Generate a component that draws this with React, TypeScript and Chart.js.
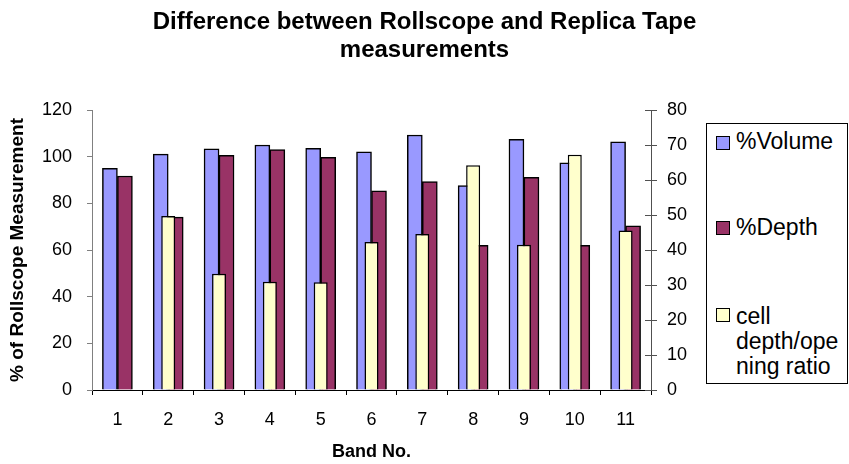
import React, { useEffect, useRef } from 'react';
import { Chart, registerables } from 'chart.js';

Chart.register(...registerables);

// Band numbers along the category axis
const bands = ['1', '2', '3', '4', '5', '6', '7', '8', '9', '10', '11'];

// % of Rollscope measurement (left axis)
const volumePct = [95.0, 101.1, 103.4, 105.0, 103.6, 102.1, 109.3, 87.6, 107.4, 97.4, 106.4];
const depthPct = [91.7, 74.1, 100.6, 103.0, 99.7, 85.4, 89.3, 62.0, 91.1, 62.0, 70.4];

// cell depth / opening ratio (right axis); band 1 has no reading
const cellRatio = [null, 49.7, 33.2, 30.9, 30.8, 42.3, 44.6, 64.2, 41.5, 67.2, 45.6];

const seriesNames = ['%Volume', '%Depth', 'cell depth/opening ratio'];
const legendLines = [['%Volume'], ['%Depth'], ['cell', 'depth/ope', 'ning ratio']];
const seriesColors = ['#9999FF', '#993366', '#FFFFCC'];

const FONT = '"Liberation Sans", Arial, Helvetica, sans-serif';
const LEFT_AXIS = '#808080';
const RIGHT_AXIS = '#505050';

// Excel-style tick marks that cross the secondary axis line
const crossTicks = {
  id: 'crossTicks',
  afterDraw(chart: any) {
    const s = chart.scales.y1;
    if (!s) return;
    const ctx = chart.ctx;
    ctx.save();
    ctx.strokeStyle = RIGHT_AXIS;
    ctx.lineWidth = 1;
    s.ticks.forEach((_: any, i: number) => {
      const y = Math.round(s.getPixelForTick(i)) + 0.5;
      ctx.beginPath();
      ctx.moveTo(s.left - 6, y);
      ctx.lineTo(s.left, y);
      ctx.stroke();
    });
    ctx.restore();
  },
};

function Legend() {
  const squareTops = [136, 221, 308];
  const textTops = [129, 215, 303.5];
  return (
    <div
      style={{
        position: 'absolute',
        left: 706,
        top: 123,
        width: 142,
        height: 261,
        boxSizing: 'border-box',
        border: '1px solid #000',
        background: '#fff',
      }}
    >
      {seriesNames.map((name, i) => (
        <React.Fragment key={name}>
          <div
            style={{
              position: 'absolute',
              left: 9,
              top: squareTops[i] - 124,
              width: 14,
              height: 14,
              boxSizing: 'border-box',
              border: '1px solid #000',
              background: seriesColors[i],
            }}
          />
          <div
            style={{
              position: 'absolute',
              left: 29,
              top: textTops[i] - 124,
              font: `23px ${FONT}`,
              lineHeight: '25px',
              color: '#000',
              whiteSpace: 'nowrap',
            }}
          >
            {legendLines[i].map((line) => (
              <div key={line}>{line}</div>
            ))}
          </div>
        </React.Fragment>
      ))}
    </div>
  );
}

export default function App() {
  const canvasRef = useRef<HTMLCanvasElement | null>(null);

  useEffect(() => {
    document.body.style.margin = '0';
    const canvas = canvasRef.current;
    if (!canvas) return;

    const chart = new Chart(canvas, {
      type: 'bar',
      data: {
        labels: bands,
        datasets: [
          {
            label: seriesNames[0],
            data: volumePct,
            backgroundColor: seriesColors[0],
            borderColor: '#000',
            borderWidth: 1.5,
            barThickness: 15,
            yAxisID: 'y',
          },
          {
            label: seriesNames[1],
            data: depthPct,
            backgroundColor: seriesColors[1],
            borderColor: '#000',
            borderWidth: 1.5,
            barThickness: 15,
            yAxisID: 'y',
          },
          {
            label: seriesNames[2],
            data: cellRatio,
            backgroundColor: seriesColors[2],
            borderColor: '#000',
            borderWidth: 1.5,
            grouped: false,
            barPercentage: 1,
            maxBarThickness: 14,
            order: -1,
            yAxisID: 'y1',
          },
        ],
      },
      options: {
        responsive: false,
        animation: false,
        layout: { padding: 0 },
        font: { family: FONT },
        plugins: {
          legend: { display: false },
          tooltip: { enabled: false },
          title: {
            display: true,
            text: ['Difference between Rollscope and Replica Tape', 'measurements'],
            color: '#000',
            font: { family: FONT, size: 24, weight: 'bold', lineHeight: 1.15 },
            padding: { top: 9, bottom: 45.8 },
          },
        },
        scales: {
          x: {
            grid: {
              drawOnChartArea: false,
              drawTicks: true,
              tickLength: 5,
              color: '#000',
              offset: true,
            },
            border: { color: '#000', width: 1 },
            ticks: {
              color: '#000',
              font: { family: FONT, size: 18 },
              padding: 14,
              maxRotation: 0,
            },
            title: {
              display: true,
              text: 'Band No.',
              color: '#000',
              font: { family: FONT, size: 18, weight: 'bold' },
              padding: { top: 0, bottom: 1.2 },
            },
            afterFit(scale: any) {
              scale.height = 74;
            },
          },
          y: {
            position: 'left',
            min: 0,
            max: 120,
            grid: {
              drawOnChartArea: false,
              drawTicks: true,
              tickLength: 5,
              color: LEFT_AXIS,
            },
            border: { color: LEFT_AXIS, width: 1 },
            ticks: {
              stepSize: 20,
              color: '#000',
              font: { family: FONT, size: 18 },
              padding: 15,
            },
            title: {
              display: true,
              text: '% of Rollscope Measurement',
              color: '#000',
              font: { family: FONT, size: 19, weight: 'bold' },
              padding: { top: 6.6, bottom: 0 },
            },
            afterFit(scale: any) {
              scale.width = 92;
            },
          },
          y1: {
            position: 'right',
            min: 0,
            max: 80,
            grid: {
              drawOnChartArea: false,
              drawTicks: true,
              tickLength: 6,
              color: RIGHT_AXIS,
            },
            border: { color: RIGHT_AXIS, width: 1 },
            ticks: {
              stepSize: 10,
              color: '#000',
              font: { family: FONT, size: 18 },
              padding: 10,
            },
            afterFit(scale: any) {
              scale.width = 198;
            },
          },
        },
      },
      plugins: [crossTicks],
    } as any);

    return () => chart.destroy();
  }, []);

  return (
    <div style={{ position: 'relative', width: 849, height: 464, background: '#fff' }}>
      <canvas ref={canvasRef} width={849} height={464} style={{ display: 'block' }} />
      <Legend />
    </div>
  );
}
